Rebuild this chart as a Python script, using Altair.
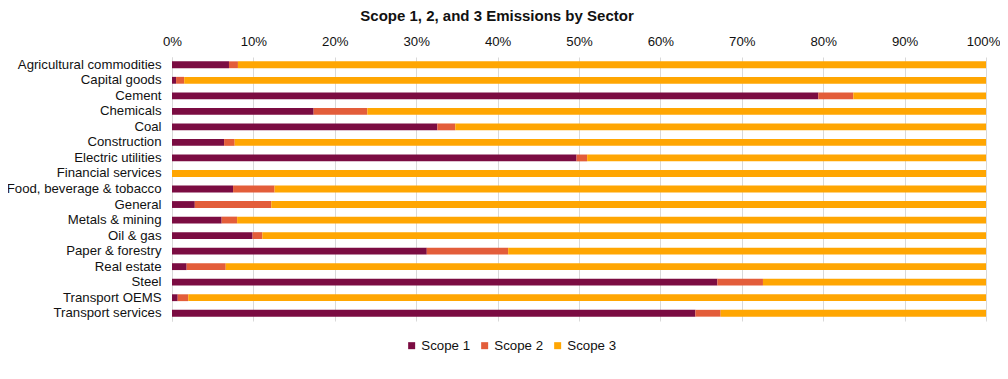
import altair as alt
import pandas as pd

sectors = ["Agricultural commodities", "Capital goods", "Cement", "Chemicals", "Coal",
           "Construction", "Electric utilities", "Financial services",
           "Food, beverage & tobacco", "General", "Metals & mining", "Oil & gas",
           "Paper & forestry", "Real estate", "Steel", "Transport OEMS", "Transport services"]
scope1 = [7.0, 0.5, 79.4, 17.4, 32.6, 6.4, 49.7, 0.0, 7.5, 2.8, 6.1, 9.9, 31.3, 1.8, 67.0, 0.7, 64.3]
scope2 = [1.1, 1.0, 4.3, 6.6, 2.2, 1.3, 1.3, 0.0, 5.1, 9.4, 1.9, 1.2, 10.0, 4.8, 5.6, 1.3, 3.1]
scope3 = [91.9, 98.5, 16.3, 76.0, 65.2, 92.3, 49.0, 100.0, 87.4, 87.8, 92.0, 88.9, 58.7, 93.4, 27.4, 98.0, 32.6]
series = ["Scope 1", "Scope 2", "Scope 3"]
colors = ["#7B0C42", "#E35D3A", "#FFA602"]

rows = []
for i, s in enumerate(sectors):
    for k, (name, vals) in enumerate(zip(series, [scope1, scope2, scope3])):
        rows.append({"Sector": s, "Scope": name, "order": k, "value": vals[i] / 100.0})
df = pd.DataFrame(rows)

FONT = "Liberation Sans"

chart = alt.Chart(df).mark_bar().encode(
    y=alt.Y("Sector:N", sort=sectors, title=None,
            scale=alt.Scale(paddingInner=0.56, paddingOuter=0.28),
            axis=alt.Axis(labelFontSize=13.2, labelFont=FONT, labelColor="#111111",
                          ticks=False, labelPadding=11, domain=True,
                          domainColor="#D9D9D9", grid=False, labelLimit=300)),
    x=alt.X("value:Q", stack="zero", title=None,
            scale=alt.Scale(domain=[0, 1], nice=False),
            axis=alt.Axis(orient="top", format=".0%", values=[i / 10 for i in range(11)],
                          labelFontSize=13.2, labelFont=FONT, labelColor="#111111",
                          ticks=False, domain=False, labelPadding=9,
                          grid=True, gridColor="#D9D9D9", gridWidth=1,
                          labelFlush=False,
                          labelOffset={"condition": {"test": "datum.value >= 0.999", "value": -3},
                                       "value": 0})),
    color=alt.Color("Scope:N", sort=series,
                    scale=alt.Scale(domain=series, range=colors),
                    legend=alt.Legend(title=None, orient="none", direction="horizontal",
                                      legendX=233, legendY=282,
                                      symbolType="square", symbolSize=49,
                                      symbolStrokeWidth=0, symbolOffset=0,
                                      labelFontSize=13.3, labelFont=FONT, labelColor="#111111",
                                      labelOffset=3, columnPadding=7)),
    order=alt.Order("order:Q", sort="ascending"),
).properties(
    width=814, height=264,
    title=alt.TitleParams("Scope 1, 2, and 3 Emissions by Sector", font=FONT,
                          fontSize=15, fontWeight="bold", color="#111111",
                          anchor="middle", offset=10, dx=-82),
    autosize=alt.AutoSizeParams(type="none"),
    padding={"left": 164, "top": 49, "right": 14, "bottom": 50},
).configure_view(stroke=None)

chart.save("out.html", embed_options={"renderer": "svg", "actions": False})
